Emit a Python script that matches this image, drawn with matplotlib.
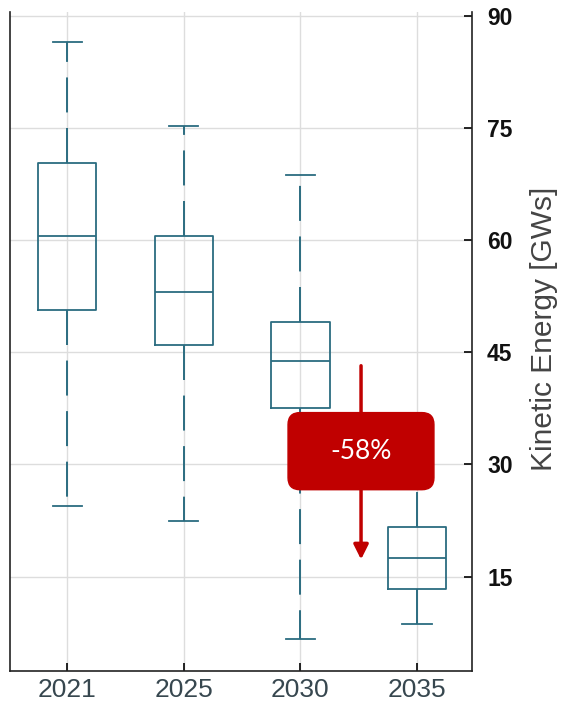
import matplotlib
matplotlib.use("Agg")
import matplotlib.pyplot as plt
from matplotlib.patches import FancyBboxPatch

years = ["2021", "2025", "2030", "2035"]
whisker_low = [24.4, 22.5, 6.6, 8.7]
q1 = [50.7, 46.0, 37.6, 13.4]
median = [60.5, 53.0, 43.9, 17.5]
q3 = [70.3, 60.5, 49.1, 21.7]
whisker_high = [86.5, 75.2, 68.7, 28.0]
yticks = [15, 30, 45, 60, 75, 90]
change_label = "-58%"

plt.rcParams['font.family'] = ['Liberation Sans', 'DejaVu Sans']
box_color = "#2b6c80"
red = "#c00000"

fig = plt.figure(figsize=(5.61, 7.04), dpi=100)
ax = fig.add_axes([0.018, 0.047, 0.823, 0.936])

stats = []
for i, y in enumerate(years):
    stats.append(dict(label=y, whislo=whisker_low[i], q1=q1[i], med=median[i],
                      q3=q3[i], whishi=whisker_high[i], fliers=[]))

ax.bxp(stats, positions=[1, 2, 3, 4], widths=0.5, showfliers=False,
       boxprops=dict(color=box_color, linewidth=1.3),
       medianprops=dict(color=box_color, linewidth=1.3),
       whiskerprops=dict(color=box_color, linewidth=1.4, linestyle=(0, (18, 8))),
       capprops=dict(color=box_color, linewidth=1.3))

ax.set_xlim(0.51, 4.47)
ax.set_ylim(2.4, 90.5)
ax.set_yticks(yticks)
ax.set_xticks([1, 2, 3, 4])
ax.set_xticklabels(years)
ax.grid(True, color="#dddddd", linewidth=1.0)
ax.set_axisbelow(True)

ax.yaxis.tick_right()
ax.yaxis.set_label_position("right")
ax.tick_params(axis='y', direction='in', length=6, width=1.2, labelsize=16.5,
               labelcolor="#111111", pad=11, left=False, right=True)
for lab in ax.get_yticklabels():
    lab.set_fontweight('bold')
ax.tick_params(axis='x', direction='in', length=6, width=1.2, labelsize=19,
               labelcolor="#37474f", pad=5)
ax.set_ylabel("Kinetic Energy [GWs]", fontsize=21.5, color="#444444")
ax.yaxis.set_label_coords(1.125, 0.519)

ax.spines['top'].set_visible(False)
for s in ['left', 'right', 'bottom']:
    ax.spines[s].set_linewidth(1.2)
    ax.spines[s].set_color("#222222")

ax.annotate("", xy=(3.52, 17.3), xytext=(3.52, 43.2),
            arrowprops=dict(arrowstyle='-|>', color=red, lw=2.5,
                            mutation_scale=22, shrinkA=0, shrinkB=0),
            zorder=5)

box = FancyBboxPatch((0.602, 0.275), 0.316, 0.117,
                     boxstyle="round,pad=0,rounding_size=0.026",
                     mutation_aspect=0.70,
                     transform=ax.transAxes, facecolor=red, edgecolor=red,
                     zorder=6)
ax.add_patch(box)
ax.text(0.602 + 0.158, 0.275 + 0.0585, change_label, transform=ax.transAxes,
        ha='center', va='center', color='white', fontsize=19,
        family=['Lato', 'DejaVu Sans'], zorder=7)

fig.savefig("out.png", dpi=100)
